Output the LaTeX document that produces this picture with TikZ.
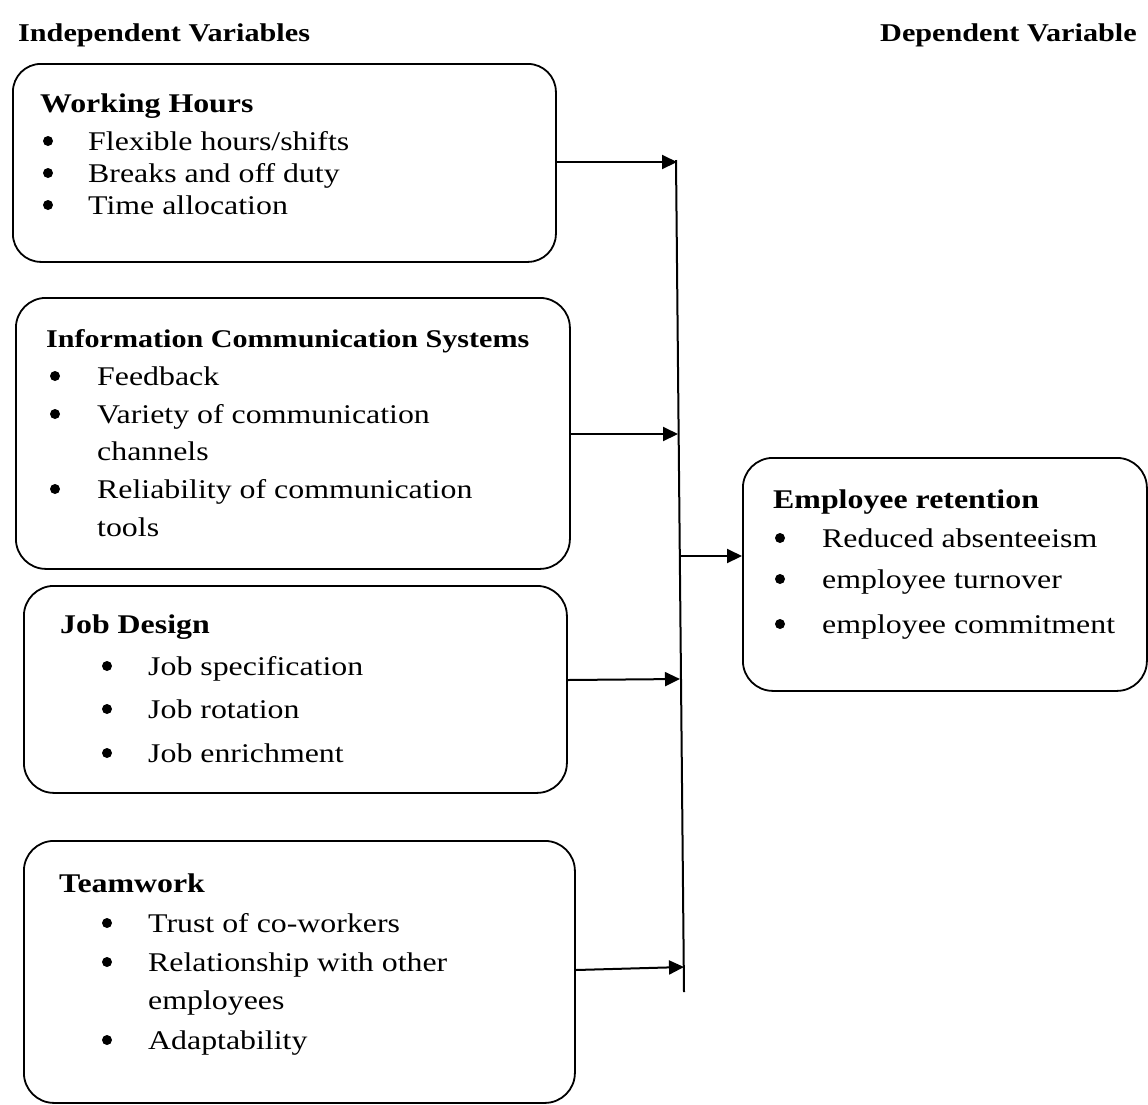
\documentclass[tikz,border=0pt]{standalone}
\usepackage{fontspec}
\setmainfont{Liberation Serif}[FakeStretch=1.18]
\usetikzlibrary{arrows.meta}
\begin{document}
\begin{tikzpicture}[x=1pt,y=-1pt,
  box/.style={draw,line width=1.8pt,rounded corners=30pt,inner sep=0pt,anchor=north west},
  txt/.style={inner sep=0pt,anchor=base west,font=\fontsize{27}{32}\selectfont},
  hd/.style={inner sep=0pt,anchor=base west,font=\fontsize{27}{32}\selectfont\bfseries},
  ttl/.style={inner sep=0pt,anchor=base west,font=\fontsize{25.6}{30}\selectfont\bfseries},
  bul/.style={circle,fill,inner sep=0pt,minimum size=10pt},
  arr/.style={line width=2pt,-{Triangle[length=15pt,width=14pt]}},
  ln/.style={line width=2pt}]
\useasboundingbox (0,0) rectangle (1148,1104);

% titles
\node[ttl] (tind) at (18,41) {Independent Variables};
\node[ttl] (tdep) at (880,41) {Dependent Variable};

% boxes
\node[box,rounded corners=28pt,minimum width=543pt,minimum height=198pt] (b1) at (12,63) {};
\node[box,minimum width=554pt,minimum height=271pt] (b2) at (15,297) {};
\node[box,minimum width=543pt,minimum height=207pt] (b3) at (23,585) {};
\node[box,minimum width=551pt,minimum height=262pt] (b4) at (23,840) {};
\node[box,minimum width=404pt,minimum height=233pt] (b5) at (742,457) {};

% box 1
\node[hd] (h1) at (40,112) {Working Hours};
\node[bul] (b1a) at (48,141) {}; \node[txt] (t1a) at (88,150) {Flexible hours/shifts};
\node[bul] (b1b) at (48,173) {}; \node[txt] (t1b) at (88,182) {Breaks and off duty};
\node[bul] (b1c) at (48,205) {}; \node[txt] (t1c) at (88,214) {Time allocation};

% box 2
\node[inner sep=0pt,anchor=base west,font=\fontsize{25.5}{30}\selectfont\bfseries] (h2) at (46,347) {Information Communication Systems};
\node[bul] (b2a) at (55,376) {}; \node[txt] (t2a) at (97,385) {Feedback};
\node[bul] (b2b) at (55,414) {}; \node[txt] (t2b) at (97,423) {Variety of communication};
\node[txt] (t2c) at (97,460) {channels};
\node[bul] (b2d) at (55,489) {}; \node[txt] (t2d) at (97,498) {Reliability of communication};
\node[txt] (t2e) at (97,536) {tools};

% box 3
\node[hd] (h3) at (60,633) {Job Design};
\node[bul] (b3a) at (107,666) {}; \node[txt] (t3a) at (148,675) {Job specification};
\node[bul] (b3b) at (107,709) {}; \node[txt] (t3b) at (148,718) {Job rotation};
\node[bul] (b3c) at (107,753) {}; \node[txt] (t3c) at (148,762) {Job enrichment};

% box 4
\node[hd] (h4) at (59,892) {Teamwork};
\node[bul] (b4a) at (107,923) {}; \node[txt] (t4a) at (148,932) {Trust of co-workers};
\node[bul] (b4b) at (107,962) {}; \node[txt] (t4b) at (148,971) {Relationship with other};
\node[txt] (t4c) at (148,1009) {employees};
\node[bul] (b4d) at (107,1040) {}; \node[txt] (t4d) at (148,1049) {Adaptability};

% box 5
\node[hd] (h5) at (773,508) {Employee retention};
\node[bul] (b5a) at (780,538) {}; \node[txt] (t5a) at (822,547) {Reduced absenteeism};
\node[bul] (b5b) at (780,579) {}; \node[txt] (t5b) at (822,588) {employee turnover};
\node[bul] (b5c) at (780,624) {}; \node[txt] (t5c) at (822,633) {employee commitment};

% vertical collector line
\coordinate (vtop) at (676,160);
\coordinate (vbot) at (684,992);
\draw[ln] (vtop) -- (vbot);

\coordinate (t1) at (677,162);
\coordinate (t2) at (678,434);
\coordinate (s3) at (566,680);
\coordinate (t3) at (680,679);
\coordinate (s4) at (574,970);
\coordinate (t4) at (684,967);
\coordinate (t5) at (680,556);

\draw[arr] (b1.east |- t1) -- (t1);
\draw[arr] (b2.east |- t2) -- (t2);
\draw[arr] (b3.east |- s3) -- (t3);
\draw[arr] (b4.east |- s4) -- (t4);
\draw[arr] (t5) -- (b5.west |- t5);
\end{tikzpicture}
\end{document}
